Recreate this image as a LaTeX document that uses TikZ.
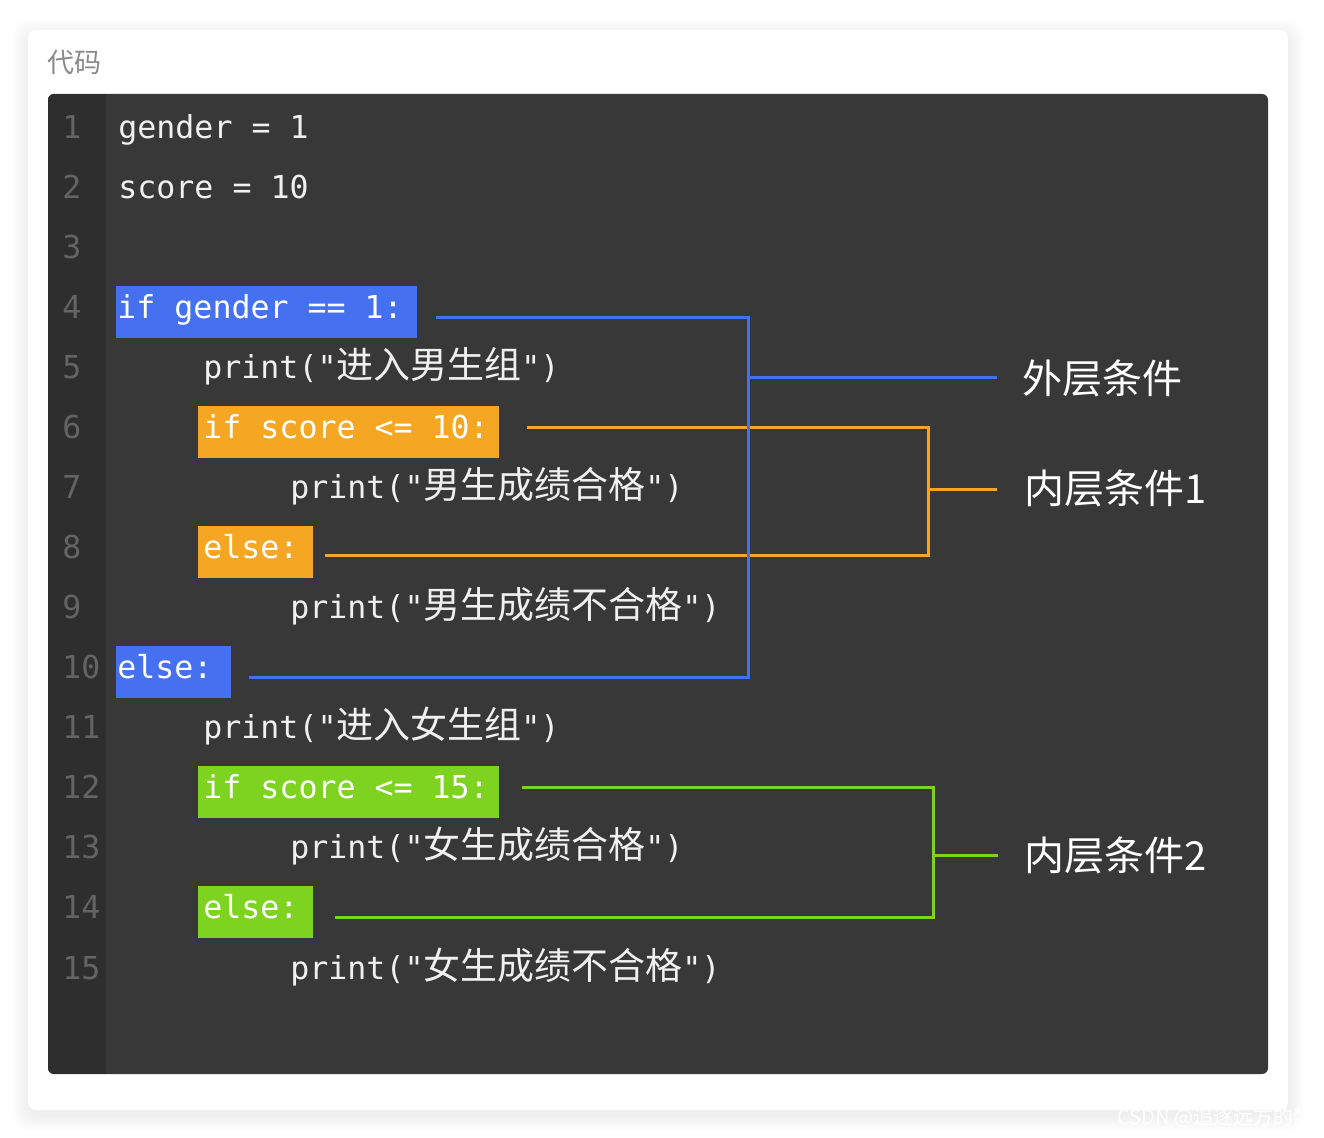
\documentclass[tikz,border=0pt]{standalone}
\usepackage{fontspec}
\setmonofont{DejaVu Sans Mono}
\newfontfamily\cjkfont{Noto Sans CJK SC}
\newfontfamily\cjkcode{Noto Sans CJK SC}[Scale=1.17]
\usetikzlibrary{positioning,calc}
\definecolor{panel}{HTML}{383838}
\definecolor{gutter}{HTML}{2E2E2E}
\definecolor{numgray}{HTML}{646464}
\definecolor{titlegray}{HTML}{8A8A8A}
\definecolor{outerblue}{HTML}{4570F0}
\definecolor{innerorange}{HTML}{F5A623}
\definecolor{innergreen}{HTML}{7ED321}
\newcommand{\zh}[1]{{\cjkcode #1}}
\tikzset{%
    % Specifications for style of nodes:
    codeline/.style = {
        anchor=base west, inner sep=0,
        text=white!94!black,
        font=\ttfamily\fontsize{15.8}{19}\selectfont
    },
    lineno/.style = {codeline, text=numgray},
    hilite/.style = {codeline, text=white, text height=16.5pt, text depth=9.5pt},
    outerbox/.style = {hilite, fill=outerblue},
    orangebox/.style = {hilite, fill=innerorange},
    greenbox/.style = {hilite, fill=innergreen},
    condlabel/.style = {
        anchor=west, inner sep=0, text=white,
        font=\cjkfont\fontsize{20}{24}\selectfont
    },
    outerlink/.style = {draw=outerblue, line width=1.5pt},
    orangelink/.style = {draw=innerorange, line width=1.5pt},
    greenlink/.style = {draw=innergreen, line width=1.5pt}
}

\begin{document}
\begin{tikzpicture}[x=0.5pt, y=-0.5pt]
    \useasboundingbox (0,0) rectangle (1324,1138);
    \fill[white] (0,0) rectangle (1324,1138);
    \foreach \s in {1,...,16}
        \fill[black, opacity=0.005, rounded corners=8pt] (28-\s,35-\s) rectangle (1288+\s,1115+\s);
    \fill[white, rounded corners=4pt] (28,30) rectangle (1288,1110);
    \node[anchor=west, inner sep=0, text=titlegray, font=\cjkfont\fontsize{13.5}{16}\selectfont] (title) at (47,62) {代码};

    \fill[panel, rounded corners=3pt] (48,94) rectangle (1268,1074);
    \begin{scope}
        \clip[rounded corners=3pt] (48,94) rectangle (1268,1074);
        \fill[gutter] (48,94) rectangle (106,1074);
    \end{scope}

    \foreach \n in {1,...,15}
        \node[lineno] (ln\n) at (62,{139+60*(\n-1)}) {\n};

    \node[codeline] (c1) at (118,139) {gender = 1};
    \node[codeline] (c2) at (118,199) {score = 10};
    \node[outerbox] (c4) at (116,319) {\kern0.5pt if gender == 1:\kern7pt};
    \node[codeline] (c5) at (203,379) {print("\zh{进入男生组}")};
    \node[orangebox] (c6) at (198,439) {\kern2.5pt if score <= 10:\kern5pt};
    \node[codeline] (c7) at (290,499) {print("\zh{男生成绩合格}")};
    \node[orangebox] (c8) at (198,559) {\kern2.5pt else:\kern7pt};
    \node[codeline] (c9) at (290,619) {print("\zh{男生成绩不合格}")};
    \node[outerbox] (c10) at (116,679) {\kern0.5pt else:\kern9pt};
    \node[codeline] (c11) at (203,739) {print("\zh{进入女生组}")};
    \node[greenbox] (c12) at (198,799) {\kern2.5pt if score <= 15:\kern5pt};
    \node[codeline] (c13) at (290,859) {print("\zh{女生成绩合格}")};
    \node[greenbox] (c14) at (198,919) {\kern2.5pt else:\kern7pt};
    \node[codeline] (c15) at (290,979) {print("\zh{女生成绩不合格}")};

    \node[condlabel] (outerTag) at (1022,378) {外层条件};
    \node[condlabel] (innerTag1) at (1024,488) {内层条件1};
    \node[condlabel] (innerTag2) at (1024,855) {内层条件2};

    \coordinate (innA1) at (527,428);
    \coordinate (innB1) at (325,556);
    \coordinate (innJ1) at (928,490);
    \draw[orangelink] (innA1) -- (innA1 -| innJ1) -- (innB1 -| innJ1) -- (innB1);
    \draw[orangelink] (innJ1) -- ([xshift=-13.5pt]innerTag1.west |- innJ1);

    \coordinate (innA2) at (522,788);
    \coordinate (innB2) at (335,918);
    \coordinate (innJ2) at (933,856);
    \draw[greenlink] (innA2) -- (innA2 -| innJ2) -- (innB2 -| innJ2) -- (innB2);
    \draw[greenlink] (innJ2) -- ([xshift=-13pt]innerTag2.west |- innJ2);

    \coordinate (outA) at (436,318);
    \coordinate (outB) at (249,678);
    \coordinate (outJ) at (748,378);
    \draw[outerlink] (outA) -- (outA -| outJ) -- (outB -| outJ) -- (outB);
    \draw[outerlink] (outJ) -- ([xshift=-12.5pt]outerTag.west |- outJ);

    \node[anchor=west, inner sep=0, text=white, font=\cjkfont\fontsize{10}{12}\selectfont] (mark) at (1117,1118) {CSDN @追逐远方的梦};
\end{tikzpicture}
\end{document}
